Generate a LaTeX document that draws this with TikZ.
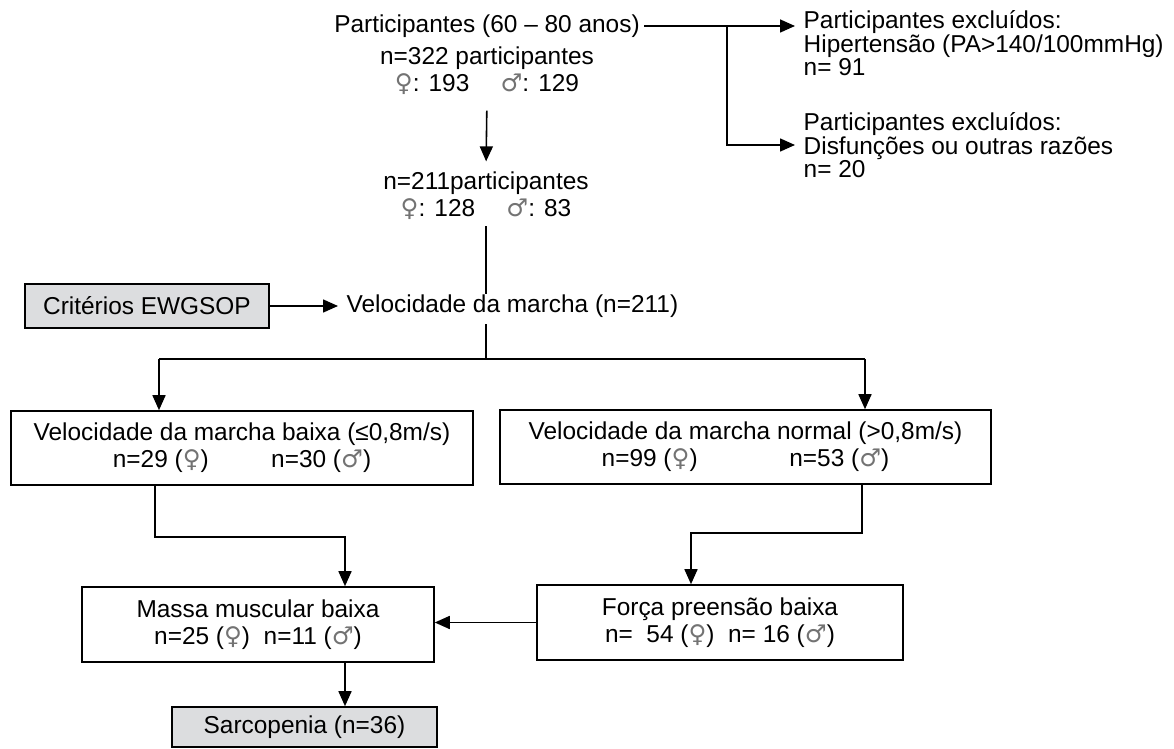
\documentclass[tikz,border=0pt]{standalone}
\usepackage{fontspec}
\setmainfont{Liberation Sans}
\newfontfamily\gendfont{DejaVu Sans}
\usepackage{xcolor}
\usepackage{tikz}
\usetikzlibrary{positioning, calc, arrows.meta}

\definecolor{boxgray}{RGB}{220,221,223}
\newcommand{\femsym}{{\gendfont\color{black!55}♀}}
\newcommand{\malesym}{{\gendfont\color{black!55}♂}}

\tikzset{
  txt/.style={font=\fontsize{13.9}{15.3}\selectfont, align=center, inner sep=0pt},
  lst/.style={font=\fontsize{13.9}{12.9}\selectfont, align=left, inner ysep=0pt, inner xsep=4.5pt},
  box/.style={draw, txt, line width=0.9pt},
  graybox/.style={box, fill=boxgray},
  arr/.style={-{Triangle[length=3mm,width=2.6mm]}}
}

\begin{document}
\begin{tikzpicture}[x=0.02cm, y=-0.02cm, line width=0.9pt]

\useasboundingbox (0,0) rectangle (1174,749);

%//top part
\node [txt, inner xsep=2pt] (part1) at (487,26) {Participantes (60 – 80 anos)};
\node [txt] (part2) at (487,71) {n=322 participantes\\ \femsym: 193 \quad \malesym: 129};

\node [lst, anchor=west] (exc1) at (795,43) {Participantes excluídos:\\ Hipertensão (PA>140/100mmHg)\\ n= 91};
\node [lst, anchor=west] (exc2) at (795,145) {Participantes excluídos:\\ Disfunções ou outras razões\\ n= 20};

\node [txt] (n211) at (486,196) {n=211participantes\\ \femsym: 128 \quad \malesym: 83};

\node [graybox, minimum width=4.88cm, minimum height=0.88cm] (crit) at (147,306) {Critérios EWGSOP};
\node [txt, anchor=west, inner xsep=4.5pt] (vel) at (338,306) {Velocidade da marcha (n=211)};

%//boxes
\node [box, minimum width=9.24cm, minimum height=1.48cm] (lowL) at (242,448) {Velocidade da marcha baixa (≤0,8m/s)\\ n=29 (\femsym) \hspace{2em} n=30 (\malesym)};
\node [box, minimum width=9.82cm, minimum height=1.48cm] (normR) at (745.5,447) {Velocidade da marcha normal (>0,8m/s)\\ n=99 (\femsym) \hspace{3.2em} n=53 (\malesym)};
\node [box, minimum width=7.04cm, minimum height=1.5cm] (massa) at (258,624.5) {Massa muscular baixa\\ n=25 (\femsym) \ n=11 (\malesym)};
\node [box, minimum width=7.32cm, minimum height=1.5cm] (forca) at (720,622.5) {Força preensão baixa\\ n= \ 54 (\femsym) \ n= 16 (\malesym)};
\node [graybox, minimum width=5.3cm, minimum height=0.8cm] (sarc) at (304.5,727) {Sarcopenia (n=36)};

%//connectors
\coordinate (br) at (727,26);
\draw [arr] (part1.east) -- (part1.east -| exc1.west);
\draw [arr] (br) |- (exc2.west);
\draw [arr, shorten <=0.3cm, shorten >=0.2cm] (part2.south) -- (n211.north);
\draw [shorten <=0.11cm] (n211.south) -- (n211.south |- vel.north);
\draw [arr] (crit.east) -- (vel.west);

\coordinate (split) at (486,359);
\coordinate (dL) at (159,359);
\coordinate (dR) at (865,359);
\draw [shorten <=0.12cm] (vel.south -| split) -- (split);
\draw (dL) -- (dR);
\foreach \c/\n in {dL/lowL, dR/normR}
\draw [arr] (\c) -- (\c |- \n.north);

\coordinate (jL) at (155,537);
\coordinate (jM) at (345,537);
\coordinate (jR) at (862,533);
\coordinate (jF) at (691,533);
\draw [arr] (lowL.south -| jL) -- (jL) -- (jM) -- (jM |- massa.north);
\draw [arr] (normR.south -| jR) -- (jR) -- (jF) -- (jF |- forca.north);
\draw [arr] (forca.west) -- (forca.west -| massa.east);
\draw [arr] (jM |- massa.south) -- (jM |- sarc.north);

\end{tikzpicture}
\end{document}
